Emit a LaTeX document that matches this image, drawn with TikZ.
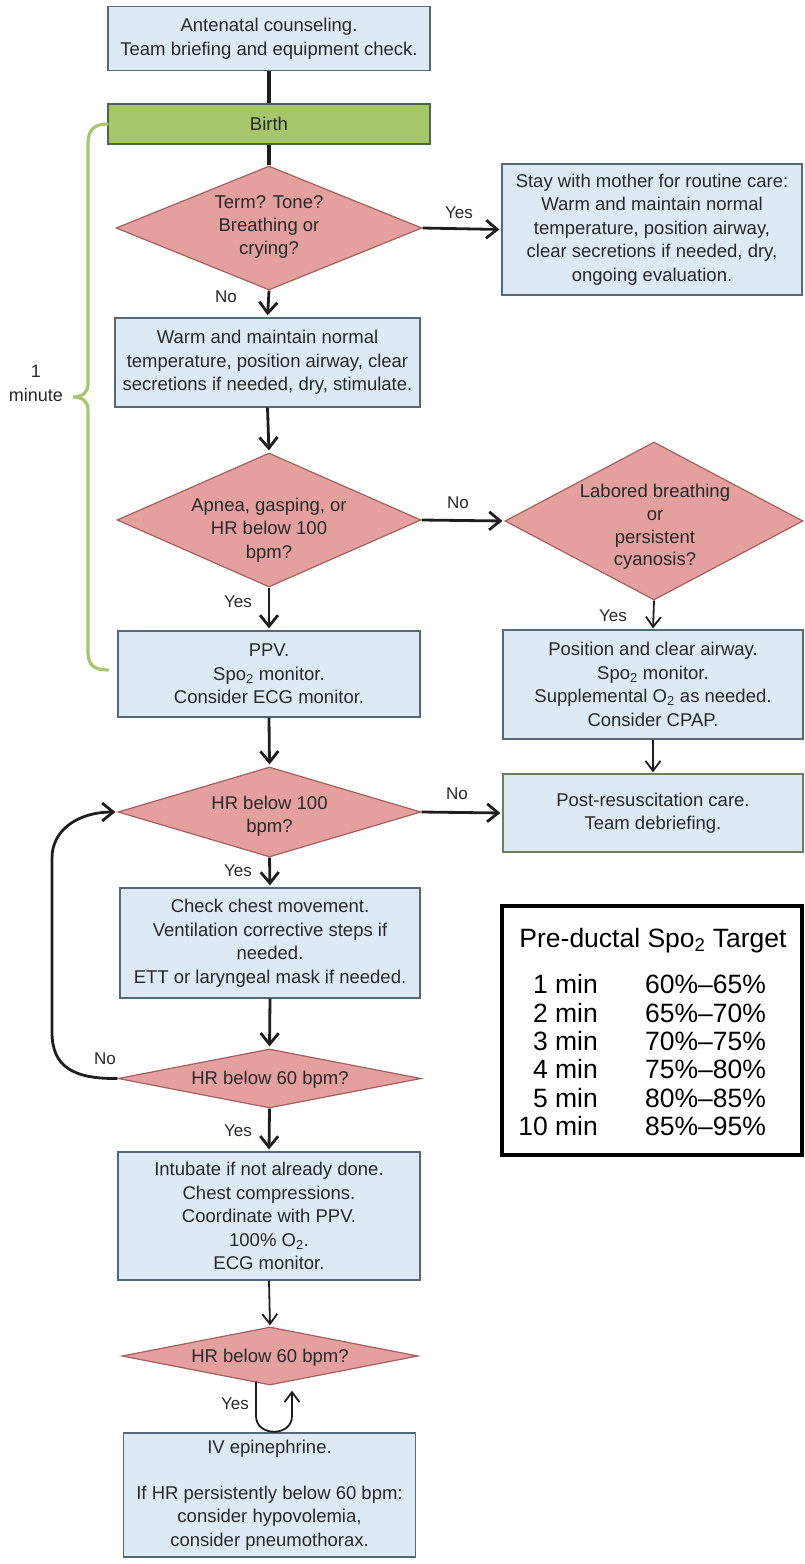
\documentclass[tikz,border=0pt]{standalone}
\usepackage{fontspec}
\setmainfont{Liberation Sans}
\usetikzlibrary{arrows.meta,shapes.geometric,calc}
\definecolor{boxfill}{RGB}{221,234,245}
\definecolor{boxdraw}{RGB}{85,105,120}
\definecolor{diafill}{RGB}{228,160,158}
\definecolor{diadraw}{RGB}{165,95,95}
\definecolor{birthfill}{RGB}{165,198,105}
\definecolor{birthdraw}{RGB}{80,100,70}
\definecolor{postdraw}{RGB}{110,125,90}
\definecolor{bracecol}{RGB}{168,198,110}
\definecolor{txt}{RGB}{40,40,40}
\definecolor{arrc}{RGB}{30,30,30}
\begin{document}
\begin{tikzpicture}[x=1pt,y=-1pt,
  box/.style={draw=boxdraw, fill=boxfill, line width=1.3pt, inner sep=0pt, align=center, text=txt,
    font=\fontsize{18.5}{23.5}\selectfont},
  dia/.style={diamond, draw=diadraw, fill=diafill, line width=1.2pt, inner sep=0pt},
  dtext/.style={align=center, text=txt, inner sep=0pt, font=\fontsize{18.5}{23.3}\selectfont},
  lbl/.style={text=txt, inner sep=0pt, font=\fontsize{17}{20}\selectfont},
  arr/.style={line width=2.8pt, draw=arrc, shorten >=2pt, -{Straight Barb[length=11pt,width=18pt]}},
  arrthin/.style={line width=1.8pt, draw=arrc, shorten >=1pt, -{Straight Barb[length=10pt,width=15pt]}},
  thick line/.style={line width=3.4pt, draw=arrc},
  tbltext/.style={text=black, inner sep=0pt, font=\fontsize{26.5}{30}\selectfont}
]
\useasboundingbox (0,0) rectangle (804,1564);

% boxes
\node[box, minimum width=322, minimum height=64] (top) at (269,38.5)
  {Antenatal counseling.\\Team briefing and equipment check.};
\node[box, draw=birthdraw, fill=birthfill, minimum width=322, minimum height=40] (birth) at (269,124) {Birth};

\node[dia, minimum width=306, minimum height=124] (d1) at (269,228) {};
\node[dtext] (d1t) at (269,227) {Term? Tone?\\Breathing or\\crying?};

\node[box, minimum width=300, minimum height=131] (stay) at (652,229.5)
  {Stay with mother for routine care:\\Warm and maintain normal\\temperature, position airway,\\clear secretions if needed, dry,\\ongoing evaluation.};

\node[box, minimum width=305, minimum height=89] (warm) at (267.5,362.5)
  {Warm and maintain normal\\temperature, position airway, clear\\secretions if needed, dry, stimulate.};

\node[dia, minimum width=304, minimum height=134] (d2) at (269,520) {};
\node[dtext] (d2t) at (269,530) {Apnea, gasping, or\\HR below 100\\bpm?};

\node[dia, minimum width=298, minimum height=158] (d3) at (654,521) {};
\node[dtext, font=\fontsize{18.5}{22.6}\selectfont] (d3t) at (655,527) {Labored breathing\\or\\persistent\\cyanosis?};

\node[box, minimum width=302, minimum height=86] (ppv) at (269,674)
  {PPV.\\Spo\textsubscript{2} monitor.\\Consider ECG monitor.};

\node[box, minimum width=300, minimum height=109] (pos) at (653,684.5)
  {Position and clear airway.\\Spo\textsubscript{2} monitor.\\Supplemental O\textsubscript{2} as needed.\\Consider CPAP.};

\node[box, draw=postdraw, minimum width=300, minimum height=78] (post) at (653,813)
  {Post-resuscitation care.\\Team debriefing.};

\node[dia, minimum width=303, minimum height=90] (d4) at (269.5,812) {};
\node[dtext] (d4t) at (269.5,816.5) {HR below 100\\bpm?};

\node[box, minimum width=300, minimum height=110] (check) at (270,943)
  {Check chest movement.\\Ventilation corrective steps if\\needed.\\ETT or laryngeal mask if needed.};

\node[dia, minimum width=303, minimum height=59] (d5) at (269.5,1078.5) {};
\node[dtext] (d5t) at (270,1080) {HR below 60 bpm?};

\node[box, minimum width=302, minimum height=128] (intub) at (269,1216)
  {Intubate if not already done.\\Chest compressions.\\Coordinate with PPV.\\100\% O\textsubscript{2}.\\ECG monitor.};

\node[dia, minimum width=296, minimum height=58] (d6) at (270,1356) {};
\node[dtext] (d6t) at (270,1358) {HR below 60 bpm?};

\node[box, minimum width=292, minimum height=124] (iv) at (269.5,1495)
  {IV epinephrine.\\[22pt]If HR persistently below 60 bpm:\\consider hypovolemia,\\consider pneumothorax.};

% table
\node[draw=black, line width=4pt, minimum width=300, minimum height=249, inner sep=0pt] (tbl) at (652,1030.5) {};
\node[tbltext, anchor=base] (tblt) at (653,947) {Pre-ductal Spo\textsubscript{2} Target};
\foreach \a/\b/\y [count=\i] in {1/60\%--65\%/993, 2/65\%--70\%/1022, 3/70\%--75\%/1050,
  4/75\%--80\%/1078, 5/80\%--85\%/1107, 10/85\%--95\%/1135}{
  \node[tbltext, anchor=base east] (rl\i) at (598,\y) {\a\ min};
  \node[tbltext, anchor=base west] (rv\i) at (645,\y) {\b};
}

% connectors
\draw[thick line] (top.south) -- (birth.north);
\draw[thick line] (birth.south) -- (d1.north);
\draw[arr] (d1.south) -- (warm.north);
\node[lbl] (lno1) at (226,297) {No};
\draw[arr] (d1.east) -- (stay.west);
\node[lbl] (lyes1) at (459,213) {Yes};
\draw[arr] (warm.south) -- (d2.north);
\draw[arr] (d2.south) -- (ppv.north);
\node[lbl] (lyes2) at (238,602) {Yes};
\draw[arr] (d2.east) -- (d3.west);
\node[lbl] (lno2) at (458,503) {No};
\draw[arrthin] (d3.south) -- (pos.north);
\node[lbl] (lyes3) at (613,616) {Yes};
\draw[arrthin] (pos.south) -- (post.north);
\draw[arr] (ppv.south) -- (d4.north);
\draw[arr] (d4.east) -- (post.west);
\node[lbl] (lno3) at (457,794) {No};
\draw[arr] (d4.south) -- (check.north);
\node[lbl] (lyes4) at (238,871) {Yes};
\draw[arr] (check.south) -- (d5.north);
\draw[arr] (d5.west) .. controls (72,1079) and (52,1066) .. (52,1032) -- (52,858)
  .. controls (52,830) and (78,812) .. (d4.west);
\node[lbl] (lno4) at (105,1059) {No};
\draw[arr] (d5.south) -- (intub.north);
\node[lbl] (lyes5) at (238,1131) {Yes};
\draw[arrthin] (intub.south) -- (d6.north);
\coordinate (ua) at ($(d6.south)+(-14,-4)$);
\coordinate (ub) at ($(d6.south)+(22,5)$);
\draw[arrthin, shorten >=0pt] (ua) -- (256,1416) .. controls (256,1437) and (292,1437) .. (292,1416) -- (ub);
\node[lbl] (lyes6) at (235,1404) {Yes};

% brace
\coordinate (bend) at (108,670);
\draw[bracecol, line width=3.2pt, line cap=round]
  (birth.west) .. controls (94,124) and (88,130) .. (88,144) -- (88,384)
  .. controls (88,393) and (82,397) .. (73,397)
  .. controls (82,397) and (88,401) .. (88,410) -- (88,652)
  .. controls (88,665) and (94,670) .. (bend);
\node[lbl, align=center, font=\fontsize{18}{24}\selectfont] (onemin) at (36,383) {1\\minute};
\end{tikzpicture}
\end{document}
